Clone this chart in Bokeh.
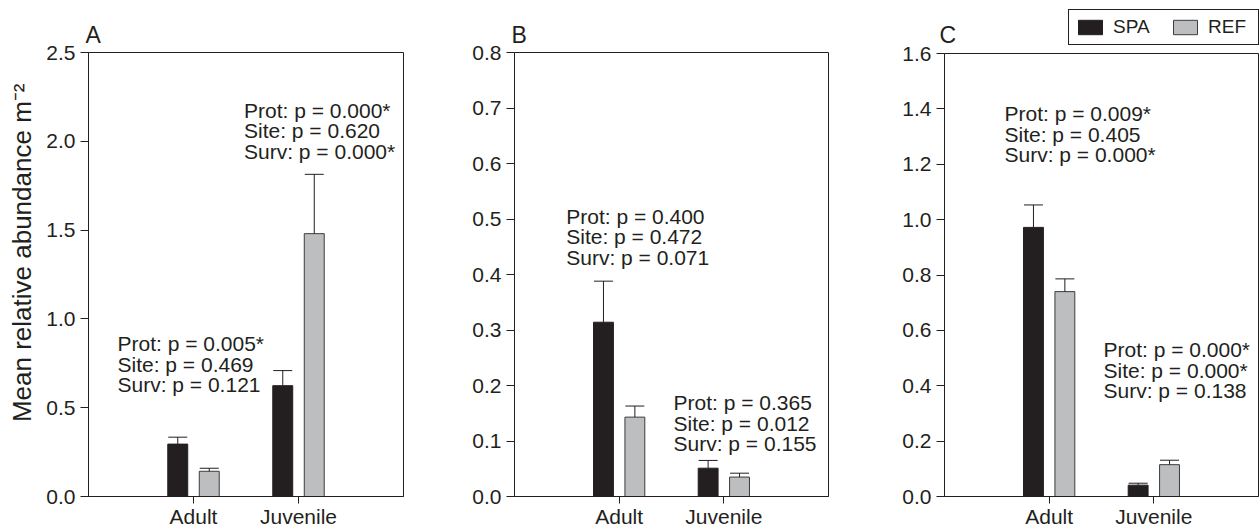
from bokeh.plotting import figure
from bokeh.models import (ColumnDataSource, FactorRange, Range1d, FixedTicker,
                          NumeralTickFormatter, Label, Legend, LegendItem)
from bokeh.transform import dodge
from bokeh.layouts import row, column
from bokeh.embed import file_html
from bokeh.resources import INLINE

# ---------------- data ----------------
stages = ["Adult", "Juvenile"]
series_names = ["SPA", "REF"]
panel_names = ["A", "B", "C"]
y_title = "Mean relative abundance m\u207b\u00b2"

a_spa = [0.295, 0.624]
a_spa_se = [0.039, 0.085]
a_ref = [0.142, 1.480]
a_ref_se = [0.017, 0.334]

b_spa = [0.314, 0.051]
b_spa_se = [0.074, 0.014]
b_ref = [0.143, 0.035]
b_ref_se = [0.020, 0.007]

c_spa = [0.972, 0.041]
c_spa_se = [0.081, 0.007]
c_ref = [0.740, 0.115]
c_ref_se = [0.046, 0.016]

a_ticks = [0.0, 0.5, 1.0, 1.5, 2.0, 2.5]
b_ticks = [0.0, 0.1, 0.2, 0.3, 0.4, 0.5, 0.6, 0.7, 0.8]
c_ticks = [0.0, 0.2, 0.4, 0.6, 0.8, 1.0, 1.2, 1.4, 1.6]

a_notes = [["Prot: p = 0.005*", "Site: p = 0.469", "Surv: p = 0.121"],
           ["Prot: p = 0.000*", "Site: p = 0.620", "Surv: p = 0.000*"]]
b_notes = [["Prot: p = 0.400", "Site: p = 0.472", "Surv: p = 0.071"],
           ["Prot: p = 0.365", "Site: p = 0.012", "Surv: p = 0.155"]]
c_notes = [["Prot: p = 0.009*", "Site: p = 0.405", "Surv: p = 0.000*"],
           ["Prot: p = 0.000*", "Site: p = 0.000*", "Surv: p = 0.138"]]

# ---------------- style ----------------
FONT = "Liberation Sans"
INK = "#231f20"
SPA_COLOR = "#231f20"
REF_COLOR = "#bcbec0"
REF_EDGE = "#3c3c3c"
OFF = 0.15
BAR_W = 0.19
LINE_STEP = 20.5


def make_panel(name, spa, spa_se, ref, ref_se, ymax, ticks, notes, note_pos,
               width, height, bl, br, bt, ylabel=None):
    src = ColumnDataSource(dict(
        stage=stages, spa=spa, ref=ref,
        spa_hi=[m + s for m, s in zip(spa, spa_se)],
        ref_hi=[m + s for m, s in zip(ref, ref_se)],
    ))
    p = figure(width=width, height=height, output_backend="svg", toolbar_location=None,
               x_range=FactorRange(factors=stages, range_padding=0.5),
               y_range=Range1d(0, ymax),
               min_border_left=bl, min_border_right=br, min_border_top=bt,
               min_border_bottom=32)
    p.frame_align = False
    p.grid.visible = False
    p.outline_line_color = INK
    p.outline_line_width = 1
    p.outline_line_alpha = 1
    p.background_fill_color = "white"
    p.border_fill_color = "white"

    if name:
        p.title.text = name
        p.title.text_font = FONT
        p.title.text_font_size = "23px"
        p.title.text_font_style = "normal"
        p.title.text_color = INK
        p.title.align = "left"
        p.title.offset = -3
        p.title.standoff = 10

    for ax in (p.xaxis[0], p.yaxis[0]):
        ax.axis_line_color = INK
        ax.major_tick_line_color = INK
        ax.major_tick_in = 0
        ax.minor_tick_line_color = None
        ax.major_label_text_font = FONT
        ax.major_label_text_font_size = "21px"
        ax.major_label_text_color = INK
    p.xaxis.major_tick_out = 7
    p.xaxis.major_label_standoff = 1
    p.yaxis.major_tick_out = 8
    p.yaxis.major_label_standoff = 5
    p.yaxis.ticker = FixedTicker(ticks=ticks)
    p.yaxis.formatter = NumeralTickFormatter(format="0.0")
    if ylabel:
        p.yaxis.axis_label = "\u00a0" * 6 + ylabel
        p.yaxis.axis_label_text_font = FONT
        p.yaxis.axis_label_text_font_size = "26px"
        p.yaxis.axis_label_text_font_style = "normal"
        p.yaxis.axis_label_text_color = INK
        p.yaxis.axis_label_standoff = 6

    x_spa = dodge("stage", -OFF, range=p.x_range)
    x_ref = dodge("stage", OFF, range=p.x_range)
    p.vbar(x=x_spa, top="spa", bottom=0, width=BAR_W, source=src,
           fill_color=SPA_COLOR, line_color=SPA_COLOR, line_width=1)
    p.vbar(x=x_ref, top="ref", bottom=0, width=BAR_W, source=src,
           fill_color=REF_COLOR, line_color=REF_EDGE, line_width=1)
    for xx, lo, hi in ((x_spa, "spa", "spa_hi"), (x_ref, "ref", "ref_hi")):
        p.segment(x0=xx, y0=lo, x1=xx, y1=hi, source=src, line_color=INK, line_width=1)
        p.scatter(x=xx, y=hi, source=src, marker="dash", size=19,
                  line_color=INK, line_width=1)

    for lines, (nx, ny) in zip(notes, note_pos):
        for i, t in enumerate(lines):
            p.add_layout(Label(x=nx, y=ny, y_offset=-LINE_STEP * i, text=t,
                               text_font=FONT, text_font_size="21px",
                               text_color=INK, text_align="left",
                               text_baseline="middle"))
    return p


pa = make_panel(panel_names[0], a_spa, a_spa_se, a_ref, a_ref_se, 2.5, a_ticks, a_notes,
                [(-0.224, 0.860), (0.981, 2.175)], 430, 530, 88, 27, 52, ylabel=y_title)
pb = make_panel(panel_names[1], b_spa, b_spa_se, b_ref, b_ref_se, 0.8, b_ticks, b_notes,
                [(-0.006, 0.505), (1.019, 0.169)], 420, 530, 84, 22, 52)
pc = make_panel(None, c_spa, c_spa_se, c_ref, c_ref_se, 1.6, c_ticks, c_notes,
                [(0.073, 1.383), (1.019, 0.530)], 409, 484, 94, 1, 7)

# header strip above panel C: panel letter and legend
hd = figure(width=409, height=46, output_backend="svg", toolbar_location=None,
            x_range=Range1d(0, 409), y_range=Range1d(0, 46),
            x_axis_location=None, y_axis_location=None,
            min_border_left=0, min_border_right=0, min_border_top=0, min_border_bottom=0)
hd.frame_align = False
hd.grid.visible = False
hd.outline_line_color = None
hd.background_fill_color = "white"
hd.border_fill_color = "white"
offscreen = ColumnDataSource(dict(x=[-1000.0], top=[-1000.0]))
r_spa = hd.vbar(x="x", top="top", bottom=-1001.0, width=1, source=offscreen,
                fill_color=SPA_COLOR, line_color=SPA_COLOR, line_width=1)
r_ref = hd.vbar(x="x", top="top", bottom=-1001.0, width=1, source=offscreen,
                fill_color=REF_COLOR, line_color=REF_EDGE, line_width=1)
hd.add_layout(Label(x=89, y=11.7, text=panel_names[2], text_font=FONT,
                    text_font_size="23px", text_color=INK,
                    text_align="left", text_baseline="middle"))
legend = Legend(items=[LegendItem(label=series_names[0], renderers=[r_spa]),
                       LegendItem(label=series_names[1], renderers=[r_ref])],
                location=(218, 1), orientation="horizontal",
                glyph_width=30, glyph_height=18, label_standoff=8, spacing=13,
                label_width=44, padding=6, margin=0,
                border_line_color=INK, border_line_width=1, border_line_alpha=1,
                background_fill_color="white", background_fill_alpha=1,
                label_text_font=FONT, label_text_font_size="19px",
                label_text_color=INK)
hd.add_layout(legend)

layout = row(pa, pb, column(hd, pc))
open("out.html", "w").write(file_html(layout, INLINE))
